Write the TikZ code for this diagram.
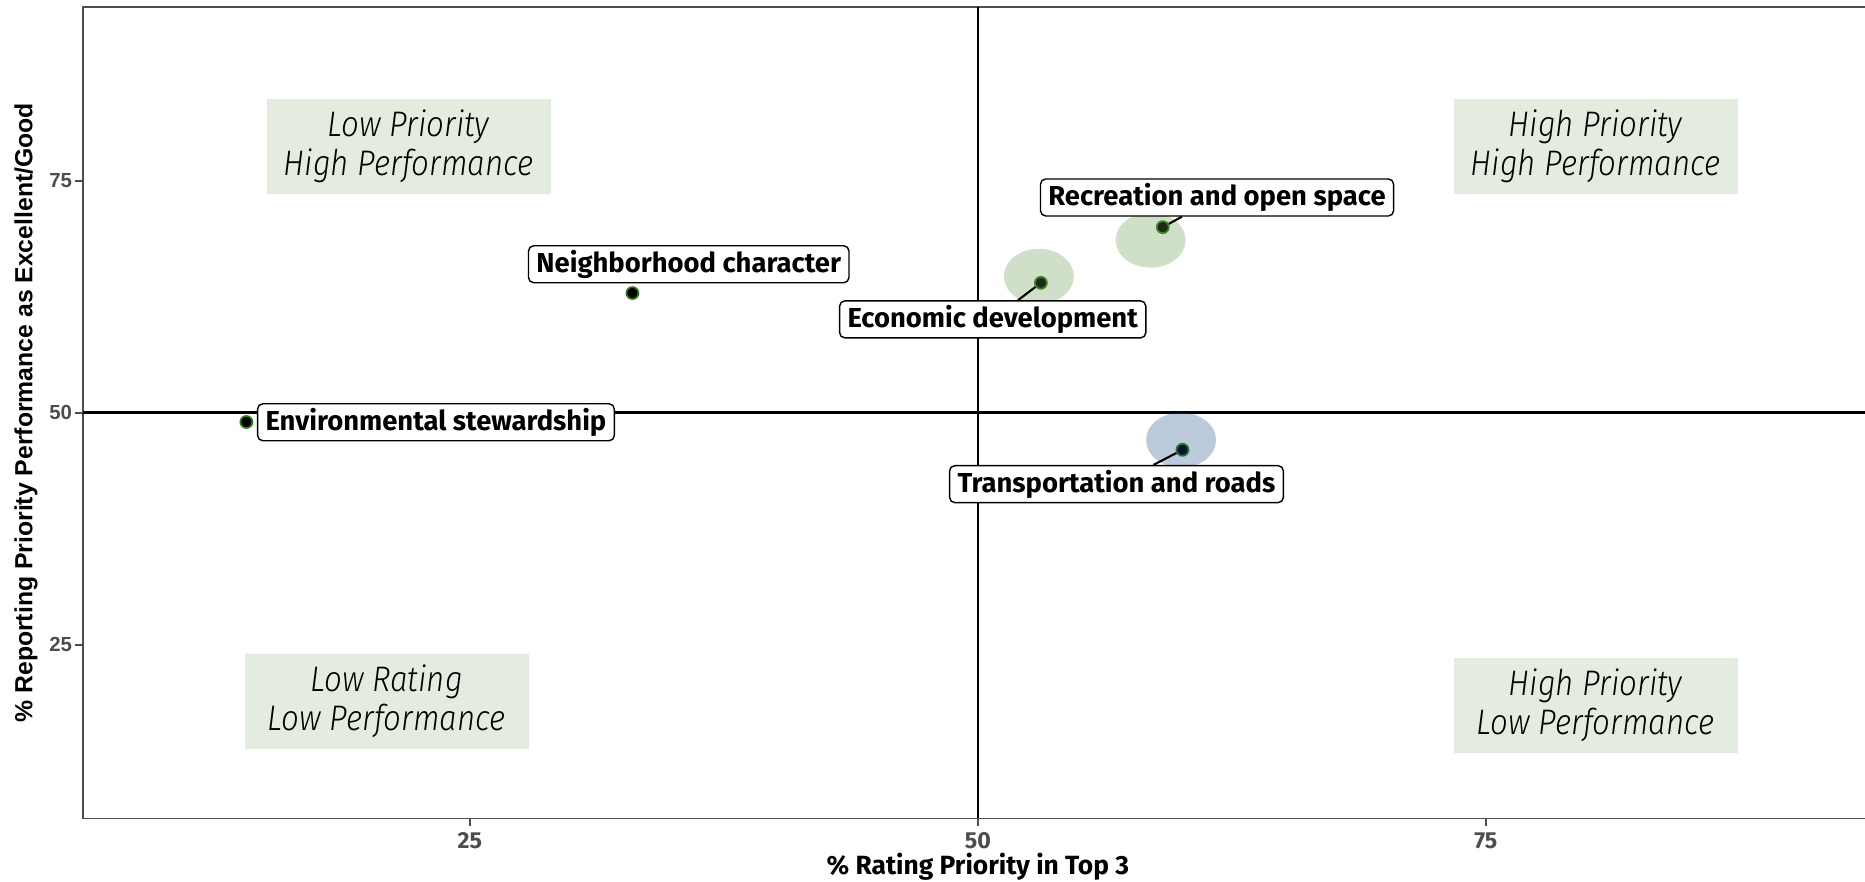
\documentclass[tikz,border=0pt]{standalone}
\usepackage{fontspec}
\usepackage{tikz}
\usetikzlibrary{shapes.geometric}
\newfontfamily\dinfont{Fira Sans}
\newfontfamily\quadfont{Fira Sans Light Italic}[FakeStretch=0.88]
\newfontfamily\helvfont{Liberation Sans}
\definecolor{quadfill}{HTML}{E4ECE0}
\definecolor{tickgray}{HTML}{4D4D4D}
\definecolor{halogreen}{HTML}{629848}
\definecolor{haloblue}{HTML}{205287}
\definecolor{dotrim}{HTML}{2F7A1C}

\begin{document}
\begin{tikzpicture}[x=0.2032cm,y=0.09277cm]
\tikzstyle{every node}+=[inner sep=0pt]
\tikzstyle{panel}=[draw=tickgray,line width=0.5pt]
\tikzstyle{quadline}=[draw=black,line width=0.7pt]
\tikzstyle{quadbox}=[fill=quadfill,minimum width=2.84cm,minimum height=0.95cm,align=center,font=\quadfont\fontsize{10.1}{10.9}\selectfont]
\tikzstyle{lab}=[draw=black,fill=white,rounded corners=1.5pt,line width=0.4pt,inner xsep=0.08cm,minimum height=0.37cm,font=\dinfont\bfseries\fontsize{7.8}{9}\selectfont]
\tikzstyle{dot}=[circle,fill=black,draw=dotrim,line width=0.5pt,minimum size=0.12cm]
\tikzstyle{halo}=[ellipse,fill opacity=0.3,minimum width=0.7cm,minimum height=0.55cm]
\tikzstyle{leader}=[draw=black,line width=0.6pt]
\tikzstyle{tick}=[draw=tickgray,line width=0.5pt]
\useasboundingbox (1.875,-0.58) rectangle (93.66,94.49);
\draw [panel] (5.97,6.26) rectangle (94.03,93.74);
\foreach \v in {25,50,75} {
  \draw [tick] (5.58,\v) -- (5.97,\v);
  \node [anchor=east,text=tickgray,font=\helvfont\bfseries\fontsize{5.8}{6}\selectfont] (yt\v) at (5.45,\v) {\v};
  \draw [tick] (\v,6.26) -- (\v,5.4);
  \node [text=tickgray,font=\dinfont\bfseries\fontsize{6.6}{7}\selectfont] (xt\v) at (\v,3.85) {\v};
}
\node [font=\dinfont\bfseries\fontsize{7.5}{9}\selectfont] (xtitle) at (50,1.03) {\% Rating Priority in Top 3};
\node [rotate=90,font=\helvfont\bfseries\fontsize{7.05}{8}\selectfont] (ytitle) at (3.16,50) {\% Reporting Priority Performance as Excellent/Good};
\node [quadbox] (lphp) at (21.98,78.7) {Low Priority\\High Performance};
\node [quadbox] (hphp) at (80.4,78.7) {High Priority\\High Performance};
\node [quadbox] (lrlp) at (20.9,18.9) {Low Rating\\Low Performance};
\node [quadbox] (hplp) at (80.4,18.46) {High Priority\\Low Performance};
\draw [quadline] (50,6.26) -- (50,93.74);
\draw [quadline] (5.97,50) -- (94.03,50);
\node [dot] (envdot) at (14,49) {};
\node [dot] (nbhdot) at (33,62.9) {};
\node [dot] (ecodot) at (53.1,64) {};
\node [dot] (recdot) at (59.1,70) {};
\node [dot] (trndot) at (60.07,46) {};
\node [halo,fill=halogreen] (echalo) at (53,64.7) {};
\node [halo,fill=halogreen] (rchalo) at (58.5,68.6) {};
\node [halo,fill=haloblue] (trhalo) at (60,47.05) {};
\node [lab] (envlab) at (23.33,48.97) {Environmental stewardship};
\node [lab] (nbhlab) at (35.77,66) {Neighborhood character};
\node [lab] (ecolab) at (50.73,60.06) {Economic development};
\node [lab] (reclab) at (61.77,73.2) {Recreation and open space};
\node [lab] (trnlab) at (56.82,42.3) {Transportation and roads};
\draw [leader] (ecodot) -- (ecolab);
\draw [leader] (recdot) -- (reclab);
\draw [leader] (trndot) -- (trnlab);
\end{tikzpicture}
\end{document}
